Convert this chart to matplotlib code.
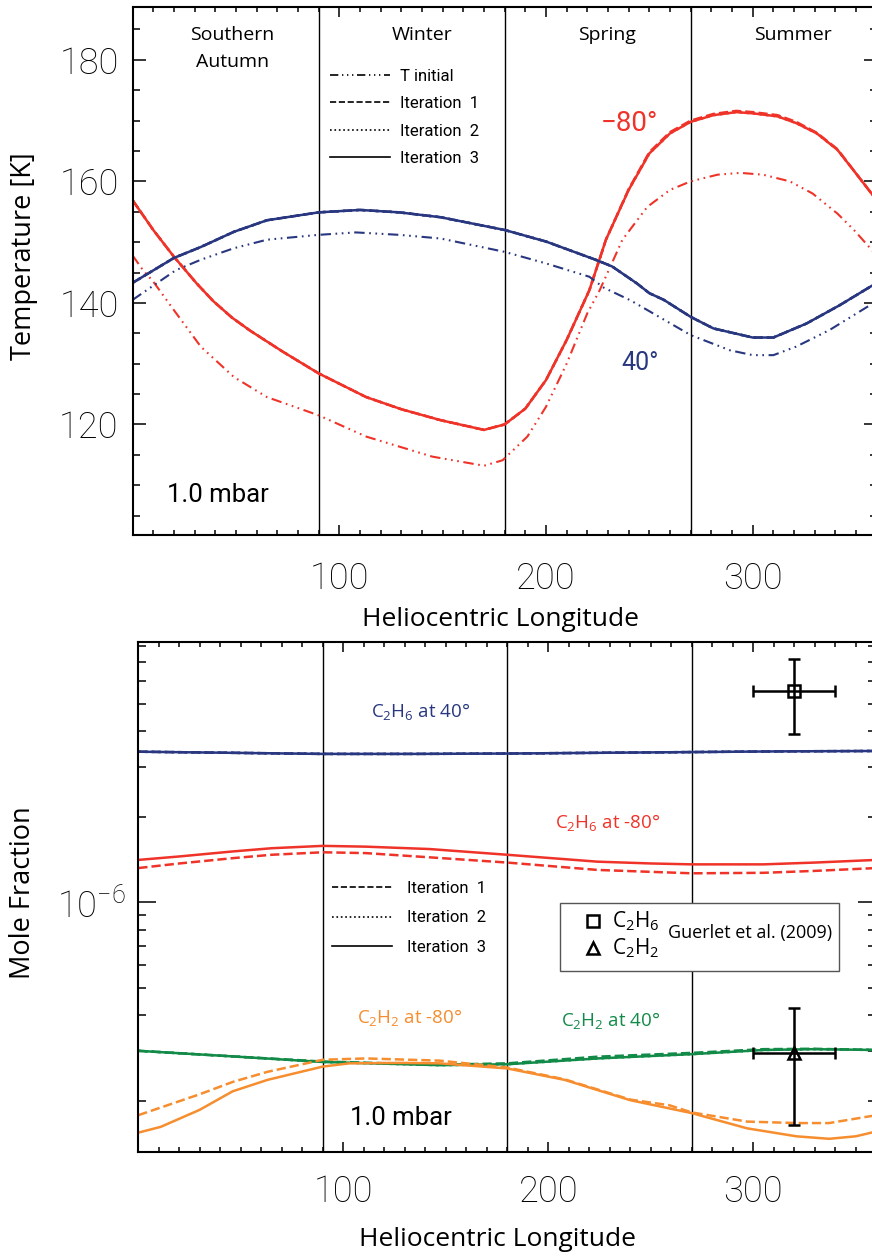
import matplotlib
matplotlib.use("Agg")
import matplotlib.pyplot as plt
from matplotlib.lines import Line2D
from matplotlib.patches import Rectangle
from matplotlib.ticker import FixedLocator, MultipleLocator, LogLocator, NullFormatter

plt.rcParams['font.family'] = ['Open Sans', 'DejaVu Sans']
plt.rcParams['mathtext.default'] = 'regular'

RED = '#ef3329'
NAVY = '#28377f'
GREEN = '#128a48'
ORANGE = '#f68d2e'
TICKFONT = ['Roboto', 'DejaVu Sans']

# dash-dot-dot-dot (IDL linestyle 4)
DDD = (0, (5, 2.2, 0.8, 2.2, 0.8, 2.2, 0.8, 2.2))

# ---------------- top panel: temperature at 1.0 mbar ----------------
ls_red_it3 = [0, 10, 20, 31, 39, 48, 57, 73, 90, 113, 130, 149, 170, 180, 190, 200, 210,
              221, 229, 240, 250, 260, 270, 281, 292, 300, 312, 321, 331, 341, 350, 360]
t_red_it3 = [156.9, 152.0, 147.6, 143.2, 140.3, 137.6, 135.4, 131.9, 128.4, 124.5, 122.5,
             120.7, 119.1, 120.0, 122.6, 127.3, 133.9, 142.1, 150.4, 158.6, 164.6, 167.9,
             169.8, 170.9, 171.4, 171.2, 170.7, 169.6, 167.9, 165.2, 161.3, 156.9]
t_red_it1 = [156.9, 152.0, 147.6, 143.2, 140.3, 137.6, 135.4, 131.9, 128.4, 124.5, 122.5,
             120.7, 119.1, 120.0, 122.6, 127.3, 133.9, 142.1, 150.4, 158.7, 164.8, 168.1,
             170.0, 171.1, 171.6, 171.4, 170.9, 169.8, 168.0, 165.3, 161.3, 156.9]

ls_red_init = [0, 5, 10, 20, 33, 49, 65, 90, 113, 145, 170, 179, 191, 200, 210, 220,
               226, 237, 249, 260, 270, 283, 294, 305, 318, 329, 341, 349, 360]
t_red_init = [147.8, 145.4, 143.5, 138.8, 132.8, 127.8, 124.5, 121.5, 118.0, 114.7, 113.2,
              114.1, 118.0, 122.9, 130.0, 138.3, 142.1, 150.4, 155.8, 158.6, 160.0, 161.1,
              161.4, 161.1, 160.0, 158.0, 154.7, 152.0, 147.8]

ls_blue_it3 = [0, 20, 33, 49, 65, 90, 110, 129, 149, 180, 200, 224, 232, 244, 250, 257,
               270, 281, 300, 310, 326, 342, 360]
t_blue_it3 = [143.3, 147.4, 149.2, 151.7, 153.6, 154.9, 155.3, 154.9, 154.1, 152.0, 150.1,
              147.1, 146.0, 143.2, 141.6, 140.5, 137.7, 135.8, 134.3, 134.3, 136.6, 139.6, 143.3]

ls_blue_init = [0, 21, 33, 49, 65, 90, 108, 129, 149, 180, 200, 221, 228, 241, 270, 289,
                300, 310, 321, 337, 360]
t_blue_init = [140.5, 145.4, 147.1, 149.0, 150.4, 151.2, 151.6, 151.2, 150.6, 148.4, 146.5,
               144.3, 142.5, 140.4, 134.7, 132.2, 131.4, 131.4, 132.8, 135.5, 140.3]

# ---------------- bottom panel: mole fractions at 1.0 mbar ----------------
ls_c2h6_40 = [0, 45, 90, 135, 180, 225, 270, 315, 360]
c2h6_40 = [3.39e-6, 3.36e-6, 3.33e-6, 3.33e-6, 3.34e-6, 3.36e-6, 3.38e-6, 3.40e-6, 3.41e-6]

ls_c2h6_80 = [0, 20, 46, 65, 90, 111, 142, 180, 224, 250, 270, 305, 330, 360]
c2h6_80_it3 = [1.41e-6, 1.45e-6, 1.51e-6, 1.55e-6, 1.58e-6, 1.57e-6, 1.54e-6, 1.47e-6,
               1.39e-6, 1.37e-6, 1.36e-6, 1.36e-6, 1.38e-6, 1.41e-6]
c2h6_80_it1 = [1.32e-6, 1.37e-6, 1.43e-6, 1.47e-6, 1.50e-6, 1.49e-6, 1.44e-6, 1.38e-6,
               1.30e-6, 1.28e-6, 1.265e-6, 1.27e-6, 1.29e-6, 1.32e-6]

ls_c2h2_40 = [0, 45, 90, 147, 180, 224, 270, 305, 329, 360]
c2h2_40_it3 = [3.0e-7, 2.87e-7, 2.74e-7, 2.67e-7, 2.69e-7, 2.82e-7, 2.92e-7, 3.02e-7, 3.04e-7, 3.02e-7]
c2h2_40_it1 = [3.0e-7, 2.87e-7, 2.75e-7, 2.68e-7, 2.71e-7, 2.86e-7, 2.95e-7, 3.04e-7, 3.05e-7, 3.02e-7]

ls_c2h2_80_it3 = [0, 11, 30, 46, 63, 90, 103, 128, 147, 180, 208, 240, 270, 297, 321, 337, 350, 360]
c2h2_80_it3 = [1.545e-7, 1.62e-7, 1.86e-7, 2.16e-7, 2.37e-7, 2.64e-7, 2.71e-7, 2.72e-7, 2.71e-7,
               2.60e-7, 2.37e-7, 2.01e-7, 1.81e-7, 1.60e-7, 1.50e-7, 1.47e-7, 1.50e-7, 1.56e-7]
ls_c2h2_80_it1 = [0, 30, 46, 63, 90, 111, 147, 180, 208, 240, 259, 270, 297, 321, 337, 360]
c2h2_80_it1 = [1.78e-7, 2.11e-7, 2.33e-7, 2.53e-7, 2.79e-7, 2.82e-7, 2.77e-7, 2.62e-7, 2.38e-7,
               2.02e-7, 1.93e-7, 1.82e-7, 1.69e-7, 1.67e-7, 1.67e-7, 1.78e-7]

# Guerlet et al. (2009) observations
obs_ls = [320, 320]
obs_ls_err = [20, 20]
obs_val = [5.55e-6, 2.94e-7]
obs_err = [1.65e-6, 1.29e-7]

seasons = [90, 180, 270]

fig = plt.figure(figsize=(8.72, 12.59), dpi=100)
ax1 = fig.add_axes([132.6 / 872, (1259 - 535) / 1259, 744.1 / 872, 528 / 1259])
ax2 = fig.add_axes([138.3 / 872, (1259 - 1151.7) / 1259, 738 / 872, 509.7 / 1259])


def style(ax, xpad, ypad):
    ax.set_xlim(0, 360)
    ax.xaxis.set_major_locator(FixedLocator([100, 200, 300]))
    ax.xaxis.set_minor_locator(MultipleLocator(10))
    ax.tick_params(which='both', direction='in', top=True, right=True, width=1.1)
    ax.tick_params(axis='x', which='major', length=7.5, pad=xpad, labelsize=26,
                   labelfontfamily=TICKFONT)
    ax.tick_params(axis='x', which='minor', length=3.8)
    ax.tick_params(axis='y', which='major', length=9.5, pad=ypad, labelsize=26,
                   labelfontfamily=TICKFONT)
    ax.tick_params(axis='y', which='minor', length=5)
    for s in ax.spines.values():
        s.set_linewidth(1.5)
    for s in seasons:
        ax.axvline(s, color='k', lw=1.0, zorder=1.5)


# ---- top ----
style(ax1, 19, 10)
ax1.set_ylim(101.8, 188.7)
ax1.yaxis.set_major_locator(FixedLocator([120, 140, 160, 180]))
ax1.yaxis.set_minor_locator(MultipleLocator(5))

lw = 1.8
ax1.plot(ls_red_init, t_red_init, color=RED, lw=1.5, ls=DDD)
ax1.plot(ls_red_it3, t_red_it1, color=RED, lw=lw, ls='--')
ax1.plot(ls_red_it3, t_red_it3, color=RED, lw=lw, ls=':')
ax1.plot(ls_red_it3, t_red_it3, color=RED, lw=lw)
ax1.plot(ls_blue_init, t_blue_init, color=NAVY, lw=1.5, ls=DDD)
ax1.plot(ls_blue_it3, t_blue_it3, color=NAVY, lw=lw, ls='--')
ax1.plot(ls_blue_it3, t_blue_it3, color=NAVY, lw=lw, ls=':')
ax1.plot(ls_blue_it3, t_blue_it3, color=NAVY, lw=lw)

for x, y, s in [(48.3, 184.1, 'Southern'), (48.3, 179.7, 'Autumn'), (140, 184.1, 'Winter'),
                (229.7, 184.1, 'Spring'), (319.6, 184.1, 'Summer')]:
    ax1.text(x, y, s, ha='center', va='center', fontsize=14)
ax1.text(240.6, 169.6, '\u221280\u00b0', color=RED, ha='center', va='center', fontsize=20,
         family=TICKFONT)
ax1.text(245.5, 130.1, '40\u00b0', color=NAVY, ha='center', va='center', fontsize=18,
         family=TICKFONT)
ax1.text(16.6, 108.4, '1.0 mbar', ha='left', va='center', fontsize=18.5, family=TICKFONT)

h_top = [Line2D([], [], color='k', lw=1.2, ls=DDD), Line2D([], [], color='k', lw=1.2, ls='--'),
         Line2D([], [], color='k', lw=1.2, ls=':'), Line2D([], [], color='k', lw=1.2)]
leg1 = ax1.legend(h_top, ['T initial', 'Iteration  1', 'Iteration  2', 'Iteration  3'],
                  loc='upper left', bbox_to_anchor=((330 - 132.6) / 744.1, 1 - 62 / 528),
                  frameon=False, borderpad=0, borderaxespad=0, handlelength=3.6,
                  handletextpad=0.6, labelspacing=0.74,
                  prop={'family': TICKFONT, 'size': 12})

fig.text(500 / 872, 1 - 620 / 1259, 'Heliocentric Longitude', ha='center', va='center', fontsize=19)
fig.text(24 / 872, 1 - 256 / 1259, 'Temperature [K]', ha='center', va='center', fontsize=19.5,
         rotation=90)

# ---- bottom ----
style(ax2, 16, 9)
ax2.set_yscale('log')
ax2.set_ylim(1.324e-7, 8.25e-6)
ax2.yaxis.set_major_locator(LogLocator(base=10))
ax2.yaxis.set_minor_locator(LogLocator(base=10, subs=range(2, 10)))
ax2.yaxis.set_minor_formatter(NullFormatter())
ax2.tick_params(axis='y', which='major', length=13)
ax2.tick_params(axis='y', which='minor', length=6)

for style_ls in ['--', ':', '-']:
    ax2.plot(ls_c2h6_40, c2h6_40, color=NAVY, lw=lw, ls=style_ls)
    ax2.plot(ls_c2h2_40, c2h2_40_it1 if style_ls == '--' else c2h2_40_it3, color=GREEN, lw=lw, ls=style_ls)
ax2.plot(ls_c2h6_80, c2h6_80_it1, color=RED, lw=lw, ls='--')
ax2.plot(ls_c2h6_80, c2h6_80_it3, color=RED, lw=lw)
ax2.plot(ls_c2h2_80_it1, c2h2_80_it1, color=ORANGE, lw=lw, ls='--')
ax2.plot(ls_c2h2_80_it3, c2h2_80_it3, color=ORANGE, lw=lw)

for i, mk in enumerate(['s', '^']):
    ax2.errorbar(obs_ls[i], obs_val[i], xerr=obs_ls_err[i], yerr=obs_err[i], fmt=mk,
                 mfc='none', mec='k', mew=1.8, ms=9, color='k', elinewidth=1.8,
                 capsize=4, capthick=1.8, zorder=4)

ax2.text(137.9, 4.68e-6, r'C$_2$H$_6$ at 40°', color=NAVY, ha='center', va='center', fontsize=13.5)
ax2.text(229.1, 1.917e-6, r'C$_2$H$_6$ at -80°', color=RED, ha='center', va='center', fontsize=13.5)
ax2.text(132.5, 3.94e-7, r'C$_2$H$_2$ at -80°', color=ORANGE, ha='center', va='center', fontsize=13.5)
ax2.text(230.6, 3.85e-7, r'C$_2$H$_2$ at 40°', color=GREEN, ha='center', va='center', fontsize=13.5)
ax2.text(103.3, 1.74e-7, '1.0 mbar', ha='left', va='center', fontsize=18.5, family=TICKFONT)

leg2 = ax2.legend(h_top[1:], ['Iteration  1', 'Iteration  2', 'Iteration  3'],
                  loc='upper left', bbox_to_anchor=((331.7 - 138.3) / 738, (1151.7 - 881) / 509.7),
                  frameon=False, borderpad=0, borderaxespad=0, handlelength=3.6,
                  handletextpad=0.9, labelspacing=0.86,
                  prop={'family': TICKFONT, 'size': 12})

# observation key box
box = Rectangle((205.7, 5.74e-7), 136.3, 4.18e-7, facecolor='white', edgecolor='#555555',
                lw=1.0, zorder=5)
ax2.add_patch(box)
ax2.plot([222], [8.6e-7], marker='s', mfc='none', mec='k', mew=1.8, ms=9, zorder=6)
ax2.plot([222], [6.89e-7], marker='^', mfc='none', mec='k', mew=1.8, ms=9, zorder=6)
ax2.text(231, 8.6e-7, r'C$_2$H$_6$', ha='left', va='center', fontsize=15, zorder=6)
ax2.text(231, 6.89e-7, r'C$_2$H$_2$', ha='left', va='center', fontsize=15, zorder=6)
ax2.text(258.5, 7.78e-7, 'Guerlet et al. (2009)', ha='left', va='center', fontsize=13, zorder=6)

fig.text(497 / 872, 1 - 1240 / 1259, 'Heliocentric Longitude', ha='center', va='center', fontsize=19)
fig.text(23 / 872, 1 - 893 / 1259, 'Mole Fraction', ha='center', va='center', fontsize=19.5,
         rotation=90)

# thin tick numbers, like the original
for ax in (ax1, ax2):
    for t in ax.xaxis.get_major_ticks() + ax.yaxis.get_major_ticks():
        t.label1.set_fontweight('light')
        t.label2.set_fontweight('light')

fig.savefig('out.png', dpi=100)
